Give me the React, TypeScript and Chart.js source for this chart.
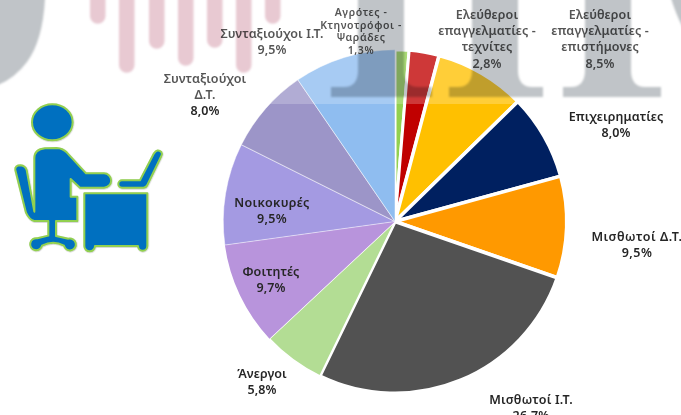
import React, { useEffect, useRef } from "react";
import { Chart, registerables } from "chart.js";

Chart.register(...registerables);

const categories = [
  "Αγρότες - Κτηνοτρόφοι - Ψαράδες",
  "Ελεύθεροι επαγγελματίες - τεχνίτες",
  "Ελεύθεροι επαγγελματίες - επιστήμονες",
  "Επιχειρηματίες",
  "Μισθωτοί Δ.Τ.",
  "Μισθωτοί Ι.Τ.",
  "Άνεργοι",
  "Φοιτητές",
  "Νοικοκυρές",
  "Συνταξιούχοι Δ.Τ.",
  "Συνταξιούχοι Ι.Τ.",
];
const shares = [1.3, 2.8, 8.5, 8.0, 9.5, 26.7, 5.8, 9.7, 9.5, 8.0, 9.5];
const sliceColors = ["#92d050", "#c00000", "#ffc000", "#002060", "#ff9900", "#525252", "#b3dd94", "#b894dc", "#a49ae2", "#9c95c8", "#8fbdf0"];
const sliceBorders = [3, 3, 3.5, 3.5, 3.5, 3.5, 1.5, 0, 0.5, 0.5, 0.5];
const labelLines = [
  ["Αγρότες -", "Κτηνοτρόφοι -", "Ψαράδες"],
  ["Ελεύθεροι", "επαγγελματίες -", "τεχνίτες"],
  ["Ελεύθεροι", "επαγγελματίες -", "επιστήμονες"],
  ["Επιχειρηματίες"],
  ["Μισθωτοί Δ.Τ."],
  ["Μισθωτοί Ι.Τ."],
  ["Άνεργοι"],
  ["Φοιτητές"],
  ["Νοικοκυρές"],
  ["Συνταξιούχοι", "Δ.Τ."],
  ["Συνταξιούχοι Ι.Τ."],
];
const labelCentersX = [361, 487, 600, 616, 637, 531, 262, 271, 272, 205, 272];
const labelFirstLineY = [13, 15, 15, 117, 237, 400, 374, 272, 203, 79, 34];
const labelLineHeights = [12.7, 16.4, 16.4, 16.5, 16.5, 16.5, 16.5, 16.5, 16.5, 16, 16];
const labelFontSizes = [10.5, 12.5, 12.5, 12.5, 12.5, 12.5, 12.5, 12.5, 12.5, 12.5, 12.5];
const labelSpacing = [0.6, 0.1, 0.1, 0.1, 0.5, 0.2, 0.1, 0.1, 0.3, 0.1, 0.1];

const pinkBars: [number, number][] = [[90, 24], [119, 73], [149, 49], [178, 66], [207, 48], [236, 73], [265, 24]];
const letters: [number, number, number][] = [[381, 331, 432], [495, 449, 543], [608, 563, 661]];

const FONT = '"Noto Sans", sans-serif';

const labelPlugin = {
  id: "sliceLabels",
  afterDraw(chart: any) {
    const ctx = chart.ctx;
    ctx.save();
    ctx.textAlign = "center";
    ctx.textBaseline = "middle";
    ctx.fillStyle = "#262626";
    shares.forEach((v, i) => {
      const lines = [...labelLines[i], v.toFixed(1).replace(".", ",") + "%"];
      ctx.font = `600 ${labelFontSizes[i]}px ${FONT}`;
      ctx.letterSpacing = `${labelSpacing[i]}px`;
      lines.forEach((t, k) => {
        ctx.fillText(t, labelCentersX[i], labelFirstLineY[i] + k * labelLineHeights[i]);
      });
    });
    ctx.restore();
  },
};

function letterPath(cx: number, l: number, r: number) {
  const a = cx - 23;
  const b = cx + 23;
  return `M${a},-4 L${b},-4 L${b},70 Q${b},87 ${b + 14},87 L${r},87 L${r},97 L${l},97 L${l},87 L${a - 14},87 Q${a},87 ${a},70 Z`;
}

export default function App() {
  const ref = useRef<HTMLCanvasElement>(null);
  useEffect(() => {
    const chart = new Chart(ref.current as HTMLCanvasElement, {
      type: "pie",
      data: {
        labels: categories,
        datasets: [
          {
            data: shares,
            backgroundColor: sliceColors,
            borderColor: "#ffffff",
            borderWidth: sliceBorders,
          },
        ],
      },
      options: {
        responsive: false,
        animation: false,
        layout: { padding: { left: 221, right: 112, top: 48, bottom: 20 } },
        plugins: { legend: { display: false }, tooltip: { enabled: false } },
      },
      plugins: [labelPlugin],
    } as any);
    return () => chart.destroy();
  }, []);

  return (
    <div style={{ position: "fixed", left: 0, top: 0, width: 681, height: 415, overflow: "hidden", background: "#fff" }}>
      <canvas ref={ref} width={681} height={415} style={{ position: "absolute", left: 0, top: 0 }} />
      <svg width={681} height={415} style={{ position: "absolute", left: 0, top: 0 }}>
        <defs>
          <filter id="soft" x="-10%" y="-10%" width="120%" height="120%">
            <feGaussianBlur stdDeviation="0.9" />
          </filter>
          <filter id="shadow" x="-10%" y="-10%" width="125%" height="125%">
            <feDropShadow dx="1" dy="1.5" stdDeviation="1.5" floodColor="#000" floodOpacity="0.3" />
          </filter>
        </defs>
        <rect x={0} y={0} width={681} height={104} fill="#fff" opacity={0.22} />
        <g filter="url(#soft)" style={{ mixBlendMode: "multiply" }}>
          <path d="M-2,-2 L45,-2 Q43,40 27,62 Q15,78 -2,85 Z" fill="#c0c4c8" />
          {letters.map(([c, l, r]) => (
            <path key={c} d={letterPath(c, l, r)} fill="#c0c4c8" />
          ))}
          <path d="M671,-2 L683,-2 L683,28 Q675,12 671,-2 Z" fill="#c0c4c8" />
          {pinkBars.map(([x, b]) => (
            <path key={x} d={`M${x},-4 h15.5 V${b - 8} a7.75,7.75 0 0 1 -15.5,0 Z`} fill="#e8c9d2" />
          ))}
        </g>
        <g transform="translate(0,90) scale(0.3333)" fill="#0070c0" stroke="#92d050" strokeWidth={6} strokeLinejoin="round" filter="url(#shadow)">
          <ellipse cx={157} cy={97} rx={61} ry={54} />
          <path d="M103,205 Q103,178 135,175 L170,174 Q188,175 200,187 L258,250 L312,250 A21,21 0 0 1 312,293 L240,293 L212,267 L212,320 L232,320 L232,393 L168,393 L168,438 L205,446 A18,18 0 1 1 192,467 Q160,450 126,467 A18,18 0 1 1 112,445 L145,437 L145,393 L103,393 Q88,390 78,368 L46,240 Q44,226 62,226 Q76,228 80,240 L103,365 Z" />
          <path d="M253,310 L442,310 L442,468 A14,14 0 0 1 414,468 L285,468 A14,14 0 0 1 253,468 Z" />
          <path d="M462,190 Q472,175 484,186 Q488,192 484,198 L442,285 Q438,293 430,293 L366,293 A11,11 0 0 1 366,271 L420,271 Z" />
        </g>
      </svg>
    </div>
  );
}
